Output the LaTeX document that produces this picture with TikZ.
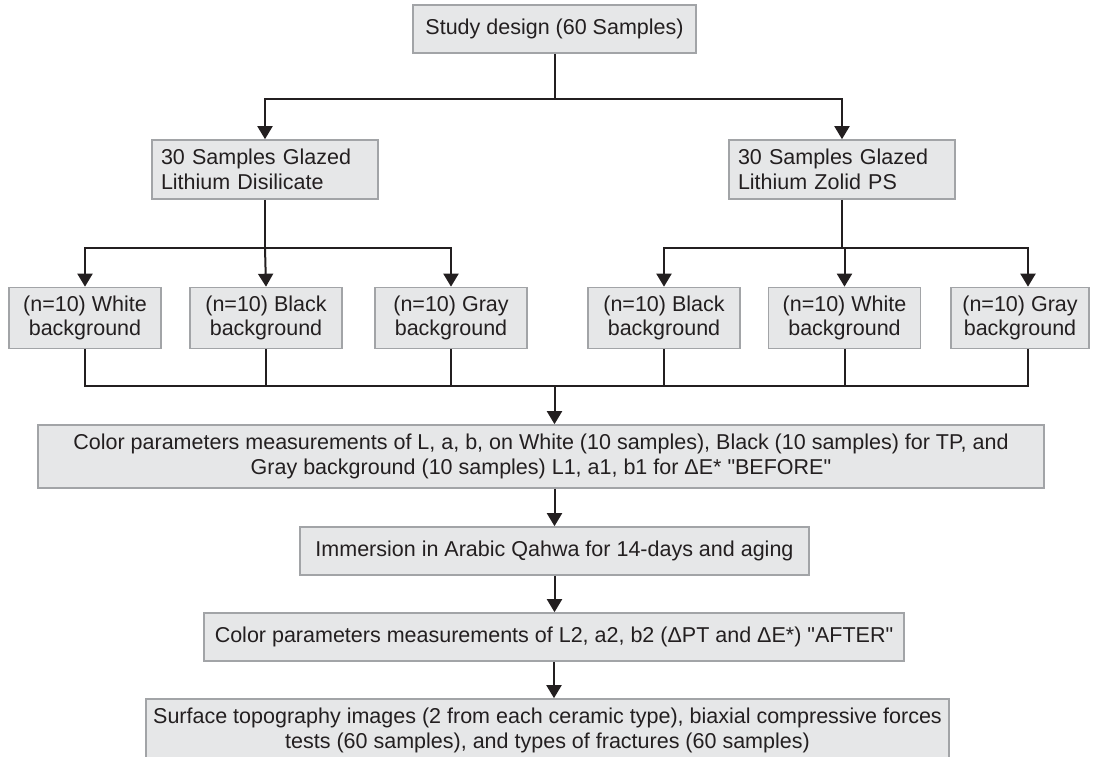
\documentclass[tikz,border=0pt]{standalone}
\usepackage{fontspec}
\setmainfont{Liberation Sans}[Ligatures=TeXOff]
\usetikzlibrary{arrows.meta,calc}
\definecolor{boxfill}{HTML}{E6E7E8}
\definecolor{boxline}{HTML}{A2A4A7}
\definecolor{ink}{HTML}{231F20}
\begin{document}
\begin{tikzpicture}[x=1pt,y=-1pt,
  box/.style={draw=boxline,fill=boxfill,line width=1.6pt,inner sep=0pt,
    text=ink,font=\fontsize{21.5}{24.5}\selectfont,align=center},
  conn/.style={draw=ink,line width=2pt},
  arr/.style={conn,-{Triangle[width=15pt,length=13pt]}}]
\useasboundingbox (0,0) rectangle (1095,757);
\node[box,minimum width=283,minimum height=48] (top) at (554.5,29) {Study design (60 Samples)};
\node[box,minimum width=226,minimum height=59,text width=208,align=left] (lds) at (265,169.5) {30 Samples Glazed\\Lithium Disilicate};
\node[box,minimum width=226,minimum height=59,text width=208,align=left] (lzp) at (842,169.5) {30 Samples Glazed\\Lithium Zolid PS};
\node[box,minimum width=152,minimum height=61] (b1) at (85,318) {(n=10) White\\background};
\node[box,minimum width=152,minimum height=61] (b2) at (266,318) {(n=10) Black\\background};
\node[box,minimum width=152,minimum height=61] (b3) at (451,318) {(n=10) Gray\\background};
\node[box,minimum width=152,minimum height=61] (b4) at (664,318) {(n=10) Black\\background};
\node[box,minimum width=152,minimum height=61] (b5) at (844.5,318) {(n=10) White\\background};
\node[box,minimum width=138,minimum height=61] (b6) at (1020,318) {(n=10) Gray\\background};
\node[box,minimum width=1006,minimum height=63] (big) at (541,456.5) {Color parameters measurements of L, a, b, on White (10 samples), Black (10 samples) for TP, and\\Gray background (10 samples) L1, a1, b1 for ΔE* "BEFORE"};
\node[box,minimum width=509,minimum height=48] (imm) at (554.5,551) {Immersion in Arabic Qahwa for 14-days and aging};
\node[box,minimum width=700,minimum height=48] (aft) at (554,637) {Color parameters measurements of L2, a2, b2 (ΔPT and ΔE*) "AFTER"};
\node[box,minimum width=803,minimum height=63] (bot) at (547.5,730.5) {Surface topography images (2 from each ceramic type), biaxial compressive forces\\tests (60 samples), and types of fractures (60 samples)};
% connectors
\coordinate (j1) at ($(top.south)+(0,45)$);
\draw[conn] (top.south) -- (j1);
\draw[arr] (j1) -| (lds.north);
\draw[arr] (j1) -| (lzp.north);
\coordinate (j2) at ($(lds.south)+(0,48)$);
\coordinate (j3) at ($(lzp.south)+(0,48)$);
\draw[conn] (lds.south) -- (j2);
\draw[conn] (lzp.south) -- (j3);
\draw[arr] (j2) -| (b1.north);
\draw[arr] (j2) -- (b2.north);
\draw[arr] (j2) -| (b3.north);
\draw[arr] (j3) -| (b4.north);
\draw[arr] (j3) -| (b5.north);
\draw[arr] (j3) -| ($(b6.north)+(8,0)$);
\coordinate (j4) at ($(b1.south)+(0,37)$);
\coordinate (j5) at ($(b6.south)+(8,37)$);
\draw[conn] (b1.south) -- (j4) -- (j5) -- ($(b6.south)+(8,0)$);
\draw[conn] (b2.south) -- (b2.south |- j4);
\draw[conn] (b3.south) -- (b3.south |- j4);
\draw[conn] (b4.south) -- (b4.south |- j4);
\draw[conn] (b5.south) -- (b5.south |- j4);
\coordinate (j6) at (imm.north |- j4);
\draw[arr] (j6) -- (j6 |- big.north);
\draw[arr] (j6 |- big.south) -- (imm.north);
\draw[arr] (imm.south) -- (imm.south |- aft.north);
\draw[arr] (aft.south) -- (aft.south |- bot.north);
\end{tikzpicture}
\end{document}
